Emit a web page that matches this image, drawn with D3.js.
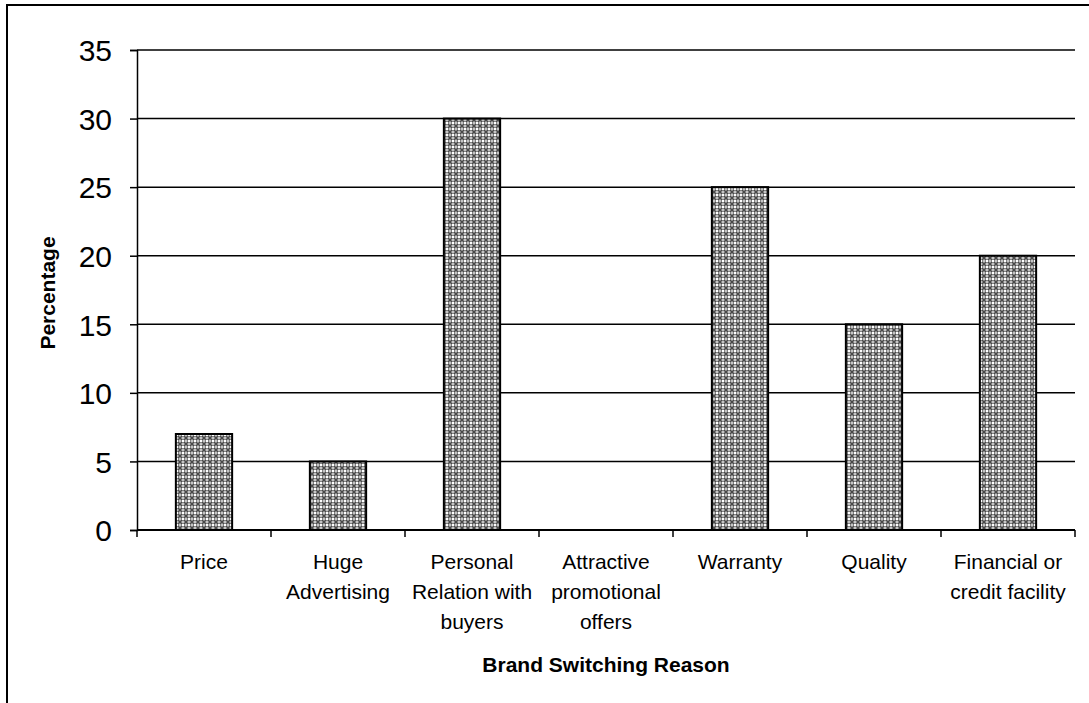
<!DOCTYPE html>
<html>
<head>
<meta charset="utf-8">
<script src="https://cdn.jsdelivr.net/npm/d3@7"></script>
<style>
  html, body { margin: 0; padding: 0; background: #fff; }
  svg { display: block; }
  text { font-family: "Liberation Sans", Arial, sans-serif; fill: #000; }
</style>
</head>
<body>
<svg id="chart" width="1089" height="703"></svg>
<script>
// Brand switching reasons and the share of respondents citing each one
const categories = [
  "Price",
  "Huge Advertising",
  "Personal Relation with buyers",
  "Attractive promotional offers",
  "Warranty",
  "Quality",
  "Financial or credit facility"
];
const categoryLines = [
  ["Price"],
  ["Huge", "Advertising"],
  ["Personal", "Relation with", "buyers"],
  ["Attractive", "promotional", "offers"],
  ["Warranty"],
  ["Quality"],
  ["Financial or", "credit facility"]
];
const percentages = [7, 5, 30, 0, 25, 15, 20];
const yTicks = [0, 5, 10, 15, 20, 25, 30, 35];

const svg = d3.select("#chart");
const W = 1089, H = 703;
const plot = { left: 137, right: 1075, top: 50, bottom: 530 };

// Crosshatch fill used for the bars
const defs = svg.append("defs");
const pat = defs.append("pattern")
  .attr("id", "hatch")
  .attr("patternUnits", "userSpaceOnUse")
  .attr("width", 6).attr("height", 6);
pat.append("rect").attr("width", 6).attr("height", 6).attr("fill", "#9a9a9a");
pat.append("path")
  .attr("d", "M0,0 L6,6 M6,0 L0,6")
  .attr("stroke", "#444").attr("stroke-width", 1.1);
pat.append("rect").attr("x", 2).attr("y", 2).attr("width", 2).attr("height", 2).attr("fill", "#ffffff");
[[0, 2.5], [5, 2.5], [2.5, 0], [2.5, 5]].forEach(([px, py]) => {
  pat.append("rect").attr("x", px).attr("y", py).attr("width", 1).attr("height", 1).attr("fill", "#eeeeee");
});

// Outer frame (top and left edges)
svg.append("path")
  .attr("d", `M7,${H} L7,5 L${W},5`)
  .attr("fill", "none").attr("stroke", "#000").attr("stroke-width", 2);

const x = d3.scaleBand()
  .domain(categories)
  .range([plot.left, plot.right])
  .paddingInner(0.58).paddingOuter(0.29);

const band = d3.scaleBand()
  .domain(categories)
  .range([plot.left, plot.right]);

const y = d3.scaleLinear()
  .domain([0, 35])
  .range([plot.bottom, plot.top]);

// Horizontal gridlines
svg.append("g")
  .selectAll("line")
  .data(yTicks.filter(d => d > 0))
  .join("line")
  .attr("x1", plot.left).attr("x2", plot.right)
  .attr("y1", d => y(d)).attr("y2", d => y(d))
  .attr("stroke", "#000").attr("stroke-width", 1.5);

// Bars
svg.append("g")
  .selectAll("rect")
  .data(categories.map((c, i) => ({ c, v: percentages[i] })).filter(d => d.v > 0))
  .join("rect")
  .attr("x", d => x(d.c))
  .attr("width", x.bandwidth())
  .attr("y", d => y(d.v))
  .attr("height", d => y(0) - y(d.v))
  .attr("fill", "url(#hatch)")
  .attr("stroke", "#000").attr("stroke-width", 2);

// Y axis
const yAxis = svg.append("g")
  .attr("transform", `translate(${plot.left},0)`)
  .call(d3.axisLeft(y).tickValues(yTicks).tickSize(7).tickPadding(18));
yAxis.select(".domain").attr("stroke", "#000").attr("stroke-width", 1.5);
yAxis.selectAll(".tick line").attr("stroke", "#000").attr("stroke-width", 1.5);
yAxis.selectAll(".tick text")
  .attr("font-size", 30)
  .attr("font-family", "Liberation Sans, Arial, sans-serif")
  .attr("dy", "0.36em");

// X axis: ticks at band boundaries
const boundaries = categories.map(c => band(c)).concat([plot.right]);
svg.append("line")
  .attr("x1", plot.left).attr("x2", plot.right)
  .attr("y1", plot.bottom).attr("y2", plot.bottom)
  .attr("stroke", "#000").attr("stroke-width", 2);
svg.append("g")
  .selectAll("line")
  .data(boundaries)
  .join("line")
  .attr("x1", d => d).attr("x2", d => d)
  .attr("y1", plot.bottom).attr("y2", plot.bottom + 7)
  .attr("stroke", "#000").attr("stroke-width", 1.5);

// Category labels
const labels = svg.append("g")
  .selectAll("text")
  .data(categories.map((c, i) => ({ c, lines: categoryLines[i] })))
  .join("text")
  .attr("text-anchor", "middle")
  .attr("font-size", 21)
  .attr("x", d => band(d.c) + band.bandwidth() / 2)
  .attr("y", 569);
labels.selectAll("tspan")
  .data(d => d.lines.map(l => ({ l, x: band(d.c) + band.bandwidth() / 2 })))
  .join("tspan")
  .attr("x", d => d.x)
  .attr("dy", (d, i) => i === 0 ? 0 : 30)
  .text(d => d.l);

// Axis titles
svg.append("text")
  .attr("x", (plot.left + plot.right) / 2)
  .attr("y", 672)
  .attr("text-anchor", "middle")
  .attr("font-size", 21)
  .attr("font-weight", "bold")
  .text("Brand Switching Reason");

svg.append("text")
  .attr("transform", `translate(55,${(plot.top + plot.bottom) / 2 + 3}) rotate(-90)`)
  .attr("text-anchor", "middle")
  .attr("font-size", 21)
  .attr("font-weight", "bold")
  .text("Percentage");
</script>
</body>
</html>
